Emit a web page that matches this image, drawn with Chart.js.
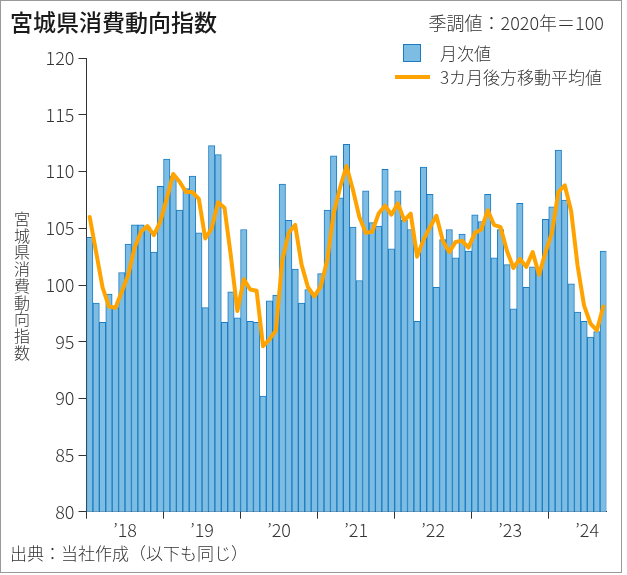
<!DOCTYPE html>
<html lang="ja">
<head>
<meta charset="utf-8">
<script src="https://cdn.jsdelivr.net/npm/chart.js@4.4.1/dist/chart.umd.min.js"></script>
<style>
  html, body { margin: 0; padding: 0; background: #fff; }
  body { width: 627px; height: 575px; position: relative; overflow: hidden;
         font-family: "Noto Sans CJK JP", "Noto Sans", sans-serif; color: #222; }
  #frame { position: absolute; left: 0; top: 0; width: 620px; height: 571px; border: 1px solid #999; box-sizing: content-box; }
  #wrap { position: absolute; left: 0; top: 0; width: 627px; height: 575px; }
  .txt { position: absolute; white-space: nowrap; line-height: 1; }
  #title { left: 10px; top: 10px; font-size: 23px; font-weight: 500; color: #1a1a1a; }
  #sub { right: 23px; top: 13px; font-size: 18px; font-weight: 300; color: #333; }
  #lgBox { position: absolute; left: 403px; top: 44px; width: 16px; height: 16px; background: #7dbde3; border: 1.5px solid #1b7cc3; }
  #lgBoxT { left: 440px; top: 44px; font-size: 17px; font-weight: 300; color: #333; }
  #lgLine { position: absolute; left: 395px; top: 75px; width: 35px; height: 4px; background: #ffa300; }
  #lgLineT { left: 440px; top: 68px; font-size: 17px; font-weight: 300; color: #333; }
  #ytitle { left: 14px; top: 211px; font-size: 16px; font-weight: 300; writing-mode: vertical-rl; letter-spacing: 0.7px; color: #333; }
  #src { left: 10px; top: 544px; font-size: 17px; font-weight: 300; color: #333; }
</style>
</head>
<body>
<div id="frame"></div>
<div id="wrap"><canvas id="c" width="627" height="575"></canvas></div>
<div class="txt" id="title">宮城県消費動向指数</div>
<div class="txt" id="sub">季調値：2020年＝100</div>
<div id="lgBox"></div><div class="txt" id="lgBoxT">月次値</div>
<div id="lgLine"></div><div class="txt" id="lgLineT">3カ月後方移動平均値</div>
<div class="txt" id="ytitle">宮城県消費動向指数</div>
<div class="txt" id="src">出典：当社作成（以下も同じ）</div>
<script>
// Categories: monthly, Jan 2018 – Sep 2024
const months = [
  "2018/01","2018/02","2018/03","2018/04","2018/05","2018/06","2018/07","2018/08","2018/09","2018/10","2018/11","2018/12",
  "2019/01","2019/02","2019/03","2019/04","2019/05","2019/06","2019/07","2019/08","2019/09","2019/10","2019/11","2019/12",
  "2020/01","2020/02","2020/03","2020/04","2020/05","2020/06","2020/07","2020/08","2020/09","2020/10","2020/11","2020/12",
  "2021/01","2021/02","2021/03","2021/04","2021/05","2021/06","2021/07","2021/08","2021/09","2021/10","2021/11","2021/12",
  "2022/01","2022/02","2022/03","2022/04","2022/05","2022/06","2022/07","2022/08","2022/09","2022/10","2022/11","2022/12",
  "2023/01","2023/02","2023/03","2023/04","2023/05","2023/06","2023/07","2023/08","2023/09","2023/10","2023/11","2023/12",
  "2024/01","2024/02","2024/03","2024/04","2024/05","2024/06","2024/07","2024/08","2024/09"
];

// 月次値
const monthly = [
  104.2, 98.4, 96.7, 99.2, 98.0,101.1,103.6,105.3,105.3,105.1,102.9,108.7,
  111.1,109.6,106.6,108.5,109.6,104.6, 98.0,112.3,111.5, 96.7, 99.4, 97.1,
  104.9, 96.8, 96.7, 90.2, 98.6, 99.1,108.9,105.7,101.4, 98.4, 99.6, 99.1,
  101.0,106.6,111.4,107.7,112.4,105.1,100.4,108.3,105.5,105.2,110.2,103.2,
  108.3,105.7,104.9, 96.8,110.4,108.0, 99.8,104.0,104.9,102.4,104.5,103.0,
  106.2,105.6,108.0,102.4,104.9,101.8, 97.9,107.2, 99.8,101.6,101.2,105.8,
  106.9,111.9,107.5,100.1, 97.6, 96.8, 95.4, 95.9,103.0
];

// 3カ月後方移動平均値
const movingAvg = [
  106.0,102.9, 99.8, 98.1, 98.0, 99.4,100.9,103.3,104.7,105.2,104.4,105.6,
  107.6,109.8,109.1,108.2,108.2,107.6,104.1,105.0,107.3,106.8,102.5, 97.7,
  100.5, 99.6, 99.5, 94.6, 95.2, 96.0,102.2,104.6,105.3,101.8, 99.8, 99.0,
   99.9,102.2,106.3,108.6,110.5,108.4,106.0,104.6,104.7,106.3,107.0,106.2,
  107.2,105.7,106.3,102.5,104.0,105.1,106.1,103.9,102.9,103.8,103.9,103.3,
  104.6,104.9,106.6,105.3,105.1,103.0,101.5,102.3,101.6,102.9,100.9,102.9,
  104.6,108.2,108.8,106.5,101.7, 98.2, 96.6, 96.0, 98.1
];

// Year tick labels
const yearLabels = ["’18","’19","’20","’21","’22","’23","’24"];
const seriesNames = ["月次値", "3カ月後方移動平均値"];

const tickFont = { family: "'Noto Sans CJK JP', 'Noto Sans', sans-serif", size: 18, weight: 300 };

new Chart(document.getElementById('c'), {
  type: 'bar',
  data: {
    labels: months,
    datasets: [
      {
        type: 'line',
        label: seriesNames[1],
        data: movingAvg,
        borderColor: '#ffa300',
        borderWidth: 4,
        pointRadius: 0,
        tension: 0,
        borderJoinStyle: 'round',
        borderCapStyle: 'round',
        fill: false,
        order: 1
      },
      {
        type: 'bar',
        label: seriesNames[0],
        data: monthly,
        backgroundColor: '#7dbde3',
        borderColor: '#1b7cc3',
        borderWidth: 1,
        barPercentage: 1,
        categoryPercentage: 1,
        order: 2
      }
    ]
  },
  options: {
    responsive: false,
    animation: false,
    devicePixelRatio: 1,
    layout: { padding: { left: 10, right: 20.5, top: 58.3, bottom: 23.3 } },
    plugins: { legend: { display: false }, tooltip: { enabled: false }, title: { display: false } },
    scales: {
      x: {
        type: 'category',
        offset: true,
        afterFit: (s) => { s.height = 40; },
        grid: {
          offset: true,
          drawOnChartArea: false,
          drawTicks: true,
          tickLength: 7,
          color: (ctx) => (ctx.index !== undefined && ctx.index % 12 === 0) ? '#333' : 'rgba(0,0,0,0)',
          lineWidth: 1
        },
        border: { display: true, color: '#333', width: 1 },
        ticks: {
          autoSkip: false,
          maxRotation: 0,
          minRotation: 0,
          labelOffset: -3.2,
          padding: 1,
          color: '#333',
          font: tickFont,
          callback: function (value, index) {
            return (index % 12 === 6) ? yearLabels[Math.floor(index / 12)] : '';
          }
        }
      },
      y: {
        min: 80,
        max: 120,
        afterFit: (s) => { s.width = 76.5; },
        grid: { drawOnChartArea: false, drawTicks: true, tickLength: 8, color: '#333' },
        border: { display: true, color: '#333', width: 1 },
        ticks: { stepSize: 5, padding: 4, color: '#333', font: tickFont }
      }
    }
  }
});
</script>
</body>
</html>
